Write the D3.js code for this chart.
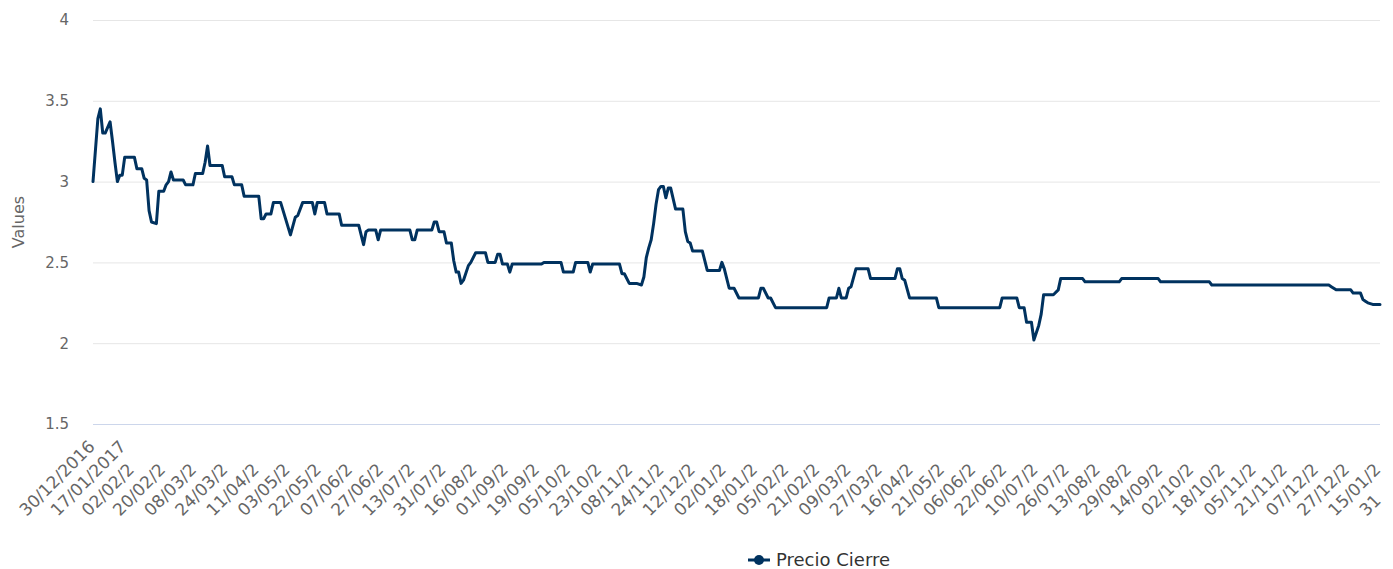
<!DOCTYPE html>
<html>
<head>
<meta charset="utf-8">
<script src="https://cdn.jsdelivr.net/npm/d3@7"></script>
<style>
  body { margin: 0; background: #fff; }
  svg { font-family: "DejaVu Sans", sans-serif; }
</style>
</head>
<body>
<svg width="1393" height="569"></svg>
<script>
  // Category labels as shown (the chart cuts most of them short)
  var tickLabels = ["30/12/2016", "17/01/2017", "02/02/2", "20/02/2", "08/03/2", "24/03/2",
    "11/04/2", "03/05/2", "22/05/2", "07/06/2", "27/06/2", "13/07/2", "31/07/2", "16/08/2",
    "01/09/2", "19/09/2", "05/10/2", "23/10/2", "08/11/2", "24/11/2", "12/12/2", "02/01/2",
    "18/01/2", "05/02/2", "21/02/2", "09/03/2", "27/03/2", "16/04/2", "03/05/2", "21/05/2",
    "06/06/2", "22/06/2", "10/07/2", "26/07/2", "13/08/2", "29/08/2", "14/09/2", "02/10/2",
    "18/10/2", "05/11/2", "21/11/2", "07/12/2", "27/12/2", "15/01/2", "31"];

  // Precio Cierre (trading-day index, close)
  var dayIndex = [0, 2, 3, 4, 5, 7, 8, 9, 10, 11, 12, 13, 17, 18, 20, 21, 22, 23, 24, 26,
    27, 29, 30, 31, 32, 33, 37, 38, 41, 42, 45, 46, 47, 48, 53, 54, 57, 58, 61, 62,
    68, 69, 70, 71, 73, 74, 77, 81, 83, 84, 86, 90, 91, 92, 95, 96, 101, 102, 109, 111,
    112, 113, 116, 117, 118, 130, 131, 132, 133, 139, 140, 141, 142, 144, 145, 147, 148, 149, 150, 151,
    152, 154, 155, 157, 161, 162, 165, 166, 167, 168, 170, 171, 172, 184, 185, 192, 193, 197, 198, 203,
    204, 205, 216, 217, 218, 220, 223, 225, 226, 227, 228, 229, 230, 231, 232, 233, 234, 235, 236, 237,
    239, 242, 243, 244, 245, 246, 250, 252, 257, 258, 259, 261, 263, 265, 273, 274, 275, 277, 278, 280,
    301, 302, 305, 306, 307, 309, 310, 311, 313, 318, 319, 329, 330, 331, 332, 333, 335, 346, 347, 372,
    373, 379, 380, 382, 383, 385, 386, 388, 389, 390, 394, 396, 397, 406, 407, 421, 422, 437, 438, 458,
    459, 507, 508, 510, 516, 517, 520, 521, 522, 523, 525, 528];
  var closePrice = [3.00, 3.39, 3.45, 3.30, 3.30, 3.37, 3.25, 3.12, 3.00, 3.04, 3.04, 3.15, 3.15, 3.08, 3.08, 3.02, 3.01, 2.82, 2.75, 2.74,
    2.94, 2.94, 2.98, 3.00, 3.06, 3.01, 3.01, 2.98, 2.98, 3.05, 3.05, 3.12, 3.22, 3.10, 3.10, 3.03, 3.03, 2.98, 2.98, 2.91,
    2.91, 2.77, 2.77, 2.80, 2.80, 2.87, 2.87, 2.67, 2.78, 2.79, 2.87, 2.87, 2.80, 2.87, 2.87, 2.80, 2.80, 2.73, 2.73, 2.61,
    2.69, 2.70, 2.70, 2.64, 2.70, 2.70, 2.64, 2.64, 2.70, 2.70, 2.75, 2.75, 2.69, 2.69, 2.62, 2.62, 2.51, 2.44, 2.44, 2.37,
    2.39, 2.48, 2.50, 2.56, 2.56, 2.50, 2.50, 2.55, 2.55, 2.49, 2.49, 2.44, 2.49, 2.49, 2.50, 2.50, 2.44, 2.44, 2.50, 2.50,
    2.44, 2.49, 2.49, 2.43, 2.43, 2.37, 2.37, 2.36, 2.41, 2.53, 2.59, 2.64, 2.74, 2.86, 2.95, 2.97, 2.97, 2.90, 2.96, 2.96,
    2.83, 2.83, 2.69, 2.63, 2.62, 2.57, 2.57, 2.45, 2.45, 2.50, 2.46, 2.34, 2.34, 2.28, 2.28, 2.34, 2.34, 2.28, 2.28, 2.22,
    2.22, 2.28, 2.28, 2.34, 2.28, 2.28, 2.34, 2.35, 2.46, 2.46, 2.40, 2.40, 2.46, 2.46, 2.40, 2.39, 2.28, 2.28, 2.22, 2.22,
    2.28, 2.28, 2.22, 2.22, 2.13, 2.13, 2.02, 2.11, 2.18, 2.30, 2.30, 2.33, 2.40, 2.40, 2.38, 2.38, 2.40, 2.40, 2.38, 2.38,
    2.36, 2.36, 2.35, 2.33, 2.33, 2.31, 2.31, 2.27, 2.26, 2.25, 2.24, 2.24];
  var lastDay = 528;

  var yTicks = [1.5, 2, 2.5, 3, 3.5, 4];
  var seriesName = "Precio Cierre";
  var lineColor = "#00325f";
  var fontFamily = "DejaVu Sans";

  // Plot area
  var margin = { top: 20, right: 13, bottom: 145, left: 93 };
  var width = 1393 - margin.left - margin.right;
  var height = 569 - margin.top - margin.bottom;

  var svg = d3.select("svg");
  var g = svg.append("g")
    .attr("transform", "translate(" + margin.left + "," + margin.top + ")");

  var xScale = d3.scaleLinear().domain([0, lastDay]).range([0, width]);
  var yScale = d3.scaleLinear().domain([1.5, 4]).range([height, 0]);
  // label slots are a little wider than the data spacing in the original
  var labelScale = d3.scalePoint().domain(tickLabels).range([0, 1340]);

  // Gridlines
  g.append("g")
    .attr("class", "grid")
    .call(d3.axisLeft(yScale).tickValues(yTicks).tickSize(-width).tickFormat(""))
    .call(function(s) { s.select(".domain").remove(); })
    .selectAll(".tick line")
    .style("stroke", "#e6e6e6")
    .style("stroke-width", "1px");

  // Y axis labels
  g.append("g")
    .call(d3.axisLeft(yScale).tickValues(yTicks).tickSize(0).tickPadding(24).tickFormat(d3.format("")))
    .call(function(s) { s.select(".domain").remove(); })
    .selectAll("text")
    .style("font-family", fontFamily)
    .style("fill", "#666")
    .style("font-size", "15px");

  // Y axis title
  svg.append("text")
    .attr("transform", "translate(24," + (margin.top + height / 2) + ") rotate(-90)")
    .attr("text-anchor", "middle")
    .style("fill", "#666")
    .style("font-size", "16px")
    .text("Values");

  // X axis line
  g.append("line")
    .attr("x1", 0).attr("x2", width)
    .attr("y1", height + 0.5).attr("y2", height + 0.5)
    .attr("stroke", "#ccd6eb");

  // X axis labels (start of each label stays put, the cut text ends early)
  var xAxis = g.append("g")
    .attr("transform", "translate(0," + height + ")")
    .call(d3.axisBottom(labelScale).tickSize(0));
  xAxis.select(".domain").remove();
  xAxis.selectAll("text")
    .attr("y", null).attr("dy", null)
    .attr("text-anchor", "start")
    .attr("transform", "translate(-67,93) rotate(-45)")
    .style("font-family", fontFamily)
    .style("fill", "#666")
    .style("font-size", "17px");

  // Line
  var points = dayIndex.map(function(d, i) { return { x: d, y: closePrice[i] }; });
  var line = d3.line()
    .x(function(d) { return xScale(d.x); })
    .y(function(d) { return yScale(d.y); });
  g.append("path")
    .datum(points)
    .attr("d", line)
    .attr("fill", "none")
    .attr("stroke", lineColor)
    .attr("stroke-width", 3)
    .attr("stroke-linejoin", "round")
    .attr("stroke-linecap", "round");

  // Legend
  var legend = svg.append("g").attr("transform", "translate(748,560)");
  legend.append("line")
    .attr("x1", 0).attr("x2", 22).attr("y1", 0).attr("y2", 0)
    .attr("stroke", lineColor).attr("stroke-width", 3);
  legend.append("circle")
    .attr("cx", 11).attr("cy", 0).attr("r", 5)
    .attr("fill", lineColor);
  legend.append("text")
    .attr("x", 28).attr("y", 6)
    .style("fill", "#333")
    .style("font-size", "18px")
    .text(seriesName);
</script>
</body>
</html>
